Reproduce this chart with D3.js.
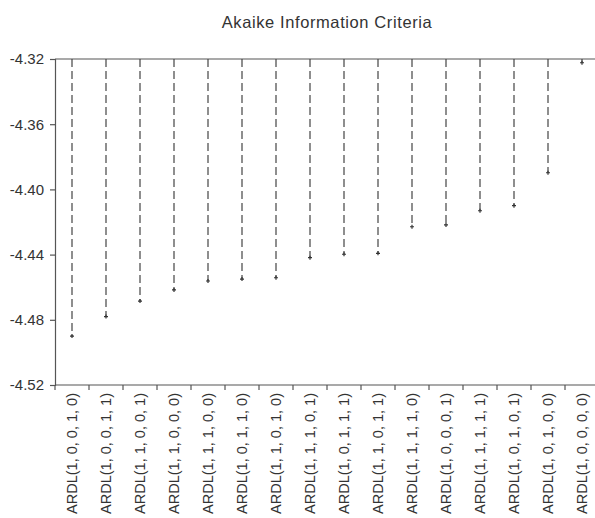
<!DOCTYPE html>
<html>
<head>
<meta charset="utf-8">
<script src="https://cdn.jsdelivr.net/npm/d3@7"></script>
<style>
  html, body { margin: 0; padding: 0; background: #fff; }
  svg { display: block; }
</style>
</head>
<body>
<svg id="chart" width="595" height="518"></svg>
<script>
// Candidate ARDL models, ordered by Akaike criterion
const models = [
  "ARDL(1, 0, 0, 1, 0)", "ARDL(1, 0, 0, 1, 1)", "ARDL(1, 1, 0, 0, 1)", "ARDL(1, 1, 0, 0, 0)",
  "ARDL(1, 1, 1, 0, 0)", "ARDL(1, 0, 1, 1, 0)", "ARDL(1, 1, 0, 1, 0)", "ARDL(1, 1, 1, 0, 1)",
  "ARDL(1, 0, 1, 1, 1)", "ARDL(1, 1, 0, 1, 1)", "ARDL(1, 1, 1, 1, 0)", "ARDL(1, 0, 0, 0, 1)",
  "ARDL(1, 1, 1, 1, 1)", "ARDL(1, 0, 1, 0, 1)", "ARDL(1, 0, 1, 0, 0)", "ARDL(1, 0, 0, 0, 0)"
];
const aicValues = [
  -4.490, -4.478, -4.4685, -4.4617,
  -4.4562, -4.455, -4.4542, -4.4419,
  -4.4398, -4.4392, -4.4229, -4.4218,
  -4.4131, -4.410, -4.3898, -4.3223
];
const yTicks = [-4.32, -4.36, -4.40, -4.44, -4.48, -4.52];

const svg = d3.select("#chart");
const plotLeft = 55, plotRight = 599, plotTop = 59, plotBottom = 385;
const axisColor = "#555";
const textColor = "#333";
const font = "'Liberation Sans', Arial, sans-serif";

const x = d3.scaleBand().domain(models).range([plotLeft, plotRight]).padding(0);
const y = d3.scaleLinear().domain([-4.52, -4.32]).range([plotBottom, plotTop]);

// Title
svg.append("text")
  .attr("x", 327).attr("y", 28)
  .attr("text-anchor", "middle")
  .attr("font-family", font).attr("font-size", 16.5)
  .attr("letter-spacing", 0.6)
  .attr("fill", textColor)
  .text("Akaike Information Criteria");

// Top reference line at the baseline value
svg.append("line")
  .attr("x1", plotLeft).attr("x2", plotRight)
  .attr("y1", y(-4.32)).attr("y2", y(-4.32))
  .attr("stroke", axisColor).attr("stroke-width", 1.2);

// Y axis
const yAxis = svg.append("g")
  .attr("transform", `translate(${plotLeft},0)`)
  .call(d3.axisLeft(y).tickValues(yTicks).tickSize(5).tickPadding(6));
yAxis.select(".domain").attr("stroke", axisColor).attr("stroke-width", 1.2);
yAxis.selectAll(".tick line").attr("stroke", axisColor).attr("stroke-width", 1.2);
yAxis.selectAll(".tick text")
  .attr("font-family", font).attr("font-size", 15).attr("fill", textColor)
  .text(d => d3.format(".2f")(d).replace("−", "-"));

// X axis: ticks at band boundaries
svg.append("line")
  .attr("x1", plotLeft).attr("x2", plotRight)
  .attr("y1", plotBottom).attr("y2", plotBottom)
  .attr("stroke", axisColor).attr("stroke-width", 1.2);
svg.append("g").selectAll("line")
  .data(models)
  .join("line")
  .attr("x1", d => x(d)).attr("x2", d => x(d))
  .attr("y1", plotBottom).attr("y2", plotBottom + 5)
  .attr("stroke", axisColor).attr("stroke-width", 1.2);

// Rotated model labels
svg.append("g").selectAll("text")
  .data(models)
  .join("text")
  .attr("transform", d => `translate(${x(d) + x.bandwidth() / 2 + 5},${plotBottom + 8}) rotate(-90)`)
  .attr("text-anchor", "end")
  .attr("font-family", font).attr("font-size", 14.5)
  .attr("fill", textColor)
  .text(d => d);

// Dashed drop lines from the top baseline to each model's AIC
const pts = models.map((m, i) => ({ m, v: aicValues[i] }));
svg.append("g").selectAll("line")
  .data(pts)
  .join("line")
  .attr("x1", d => x(d.m) + x.bandwidth() / 2)
  .attr("x2", d => x(d.m) + x.bandwidth() / 2)
  .attr("y1", y(-4.32)).attr("y2", d => y(d.v))
  .attr("stroke", "#444").attr("stroke-width", 1.2)
  .attr("stroke-dasharray", "8,4");

// Point markers
svg.append("g").selectAll("path")
  .data(pts)
  .join("path")
  .attr("d", d => {
    const cx = x(d.m) + x.bandwidth() / 2, cy = y(d.v);
    return `M${cx - 2},${cy}H${cx + 2}M${cx},${cy - 2}V${cy + 2}`;
  })
  .attr("stroke", "#333").attr("stroke-width", 1.2);
</script>
</body>
</html>
